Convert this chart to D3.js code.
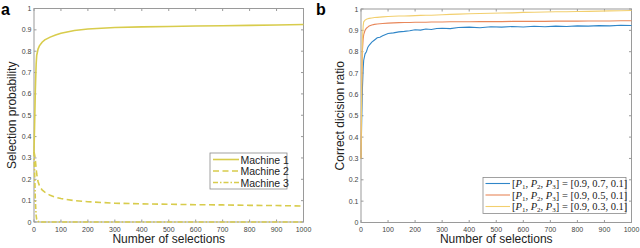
<!DOCTYPE html>
<html>
<head>
<meta charset="utf-8">
<script src="https://cdn.jsdelivr.net/npm/d3@7"></script>
<style>
    body { margin: 0; background: white; }
    svg { display: block; }
    .tick_label { font-family: "Liberation Sans", Arial, sans-serif; font-size: 7px; fill: #444; }
    .axis_label { font-family: "Liberation Sans", Arial, sans-serif; font-size: 12px; fill: #222; }
    .panel_letter { font-family: "Liberation Sans", Arial, sans-serif; font-size: 16px; font-weight: bold; fill: #000; }
</style>
</head>
<body>
<div id="chart"></div>
<script>

// ---- panel a data ----
const a_x = [0, 3, 5, 8, 10, 15, 20, 30, 40, 60, 80, 100, 150, 200, 300, 400, 500, 600, 700, 800, 900, 1000];
const machine_1 = [0.33, 0.5, 0.62, 0.74, 0.78, 0.81, 0.825, 0.842, 0.853, 0.866, 0.876, 0.884, 0.897, 0.904, 0.911, 0.914, 0.916, 0.918, 0.919, 0.921, 0.923, 0.925];
const machine_2 = [0.33, 0.31, 0.29, 0.25, 0.225, 0.19, 0.17, 0.15, 0.14, 0.125, 0.116, 0.11, 0.1, 0.095, 0.088, 0.085, 0.083, 0.081, 0.08, 0.078, 0.077, 0.075];
const machine_3 = [0.33, 0.2, 0.1, 0.03, 0.012, 0.003, 0.001, 0, 0, 0, 0, 0, 0, 0, 0, 0, 0, 0, 0, 0, 0, 0];
const a_names = ["Machine 1", "Machine 2", "Machine 3"];

// ---- panel b data ----
const b_x = [0, 3, 5, 8, 10, 15, 20, 25, 30, 40, 50, 60, 70, 80, 100, 120, 140, 160, 180, 200, 220, 240, 260, 280, 300, 330, 360, 400, 440, 480, 520, 560, 600, 640, 680, 720, 760, 800, 840, 880, 920, 960, 1000];
const blue_ratio = [0.3, 0.5, 0.62, 0.72, 0.76, 0.79, 0.8, 0.82, 0.83, 0.845, 0.855, 0.865, 0.868, 0.875, 0.885, 0.888, 0.893, 0.895, 0.898, 0.903, 0.901, 0.906, 0.904, 0.909, 0.91, 0.908, 0.913, 0.915, 0.912, 0.917, 0.915, 0.918, 0.916, 0.919, 0.917, 0.92, 0.918, 0.921, 0.92, 0.922, 0.921, 0.924, 0.923];
const orange_ratio = [0.3, 0.65, 0.8, 0.86, 0.88, 0.9, 0.91, 0.915, 0.92, 0.925, 0.928, 0.93, 0.931, 0.932, 0.934, 0.935, 0.936, 0.937, 0.937, 0.938, 0.938, 0.938, 0.939, 0.939, 0.939, 0.94, 0.94, 0.94, 0.941, 0.941, 0.941, 0.942, 0.942, 0.942, 0.942, 0.943, 0.943, 0.943, 0.944, 0.944, 0.944, 0.945, 0.945];
const yellow_ratio = [0.3, 0.7, 0.85, 0.92, 0.94, 0.948, 0.952, 0.954, 0.956, 0.958, 0.96, 0.961, 0.962, 0.963, 0.965, 0.966, 0.967, 0.967, 0.968, 0.969, 0.97, 0.971, 0.971, 0.972, 0.973, 0.975, 0.976, 0.978, 0.979, 0.98, 0.981, 0.982, 0.984, 0.985, 0.986, 0.987, 0.987, 0.988, 0.989, 0.99, 0.991, 0.992, 0.993];
const b_p2 = ["0.7", "0.5", "0.3"];

const y_ticks = [0, 0.1, 0.2, 0.3, 0.4, 0.5, 0.6, 0.7, 0.8, 0.9, 1];
const x_ticks = [0, 100, 200, 300, 400, 500, 600, 700, 800, 900, 1000];

let svg = d3.select("#chart").append("svg")
    .attr("width", 640)
    .attr("height", 248);


function draw_axes(g, xScale, yScale) {
    let x0 = xScale.range()[0], x1 = xScale.range()[1];
    let y0 = yScale.range()[0], y1 = yScale.range()[1];
    let tick_len = 2.5;

    // box
    g.append("rect")
     .attr("x", x0).attr("y", y1)
     .attr("width", x1 - x0).attr("height", y0 - y1)
     .attr("fill", "none")
     .attr("stroke", "#9a9a9a")
     .attr("stroke-width", 1);

    for (let t of x_ticks) {
        let x = xScale(t);
        g.append("line").attr("x1", x).attr("x2", x).attr("y1", y0).attr("y2", y0 - tick_len)
         .attr("stroke", "#9a9a9a");
        g.append("line").attr("x1", x).attr("x2", x).attr("y1", y1).attr("y2", y1 + tick_len)
         .attr("stroke", "#9a9a9a");
        g.append("text").attr("class", "tick_label")
         .attr("x", x).attr("y", y0 + 9.5)
         .attr("text-anchor", "middle")
         .text(t);
    }
    for (let t of y_ticks) {
        let y = yScale(t);
        g.append("line").attr("x1", x0).attr("x2", x0 + tick_len).attr("y1", y).attr("y2", y)
         .attr("stroke", "#9a9a9a");
        g.append("line").attr("x1", x1).attr("x2", x1 - tick_len).attr("y1", y).attr("y2", y)
         .attr("stroke", "#9a9a9a");
        g.append("text").attr("class", "tick_label")
         .attr("x", x0 - 2.5).attr("y", y)
         .attr("text-anchor", "end")
         .attr("dominant-baseline", "central")
         .text(d3.format("~g")(t));
    }
}


// ================= panel a =================
let a_xScale = d3.scaleLinear().domain([0, 1000]).range([34, 303.5]);
let a_yScale = d3.scaleLinear().domain([0, 1]).range([222, 8.5]);
let ga = svg.append("g");

draw_axes(ga, a_xScale, a_yScale);

let a_color = "#d8cc4c";
let a_dash = ["none", "6,3.5", "5,2,1.5,2"];
let a_series = [machine_1, machine_2, machine_3];

let a_line = d3.line()
    .x(function(d) { return a_xScale(d[0]); })
    .y(function(d) { return a_yScale(d[1]); });

for (let i = a_series.length - 1; i >= 0; i--) {
    let pts = a_x.map(function(x, j) { return [x, a_series[i][j]]; });
    ga.append("path")
      .attr("d", a_line(pts))
      .attr("fill", "none")
      .attr("stroke", a_color)
      .attr("stroke-width", 1.6)
      .attr("stroke-dasharray", a_dash[i]);
}

// legend a
let la = ga.append("g").attr("transform", "translate(210,153)");
la.append("rect").attr("width", 77).attr("height", 36)
  .attr("fill", "white").attr("stroke", "#8a8a8a").attr("stroke-width", 0.8);
for (let i = 0; i < a_names.length; i++) {
    let y = 6.5 + i * 11.5;
    la.append("line").attr("x1", 3).attr("x2", 29).attr("y1", y).attr("y2", y)
      .attr("stroke", a_color).attr("stroke-width", 1.6)
      .attr("stroke-dasharray", a_dash[i]);
    la.append("text")
      .attr("x", 30.5).attr("y", y)
      .attr("dominant-baseline", "central")
      .attr("font-family", "Liberation Sans, Arial, sans-serif")
      .attr("font-size", "10.5px")
      .attr("fill", "#222")
      .text(a_names[i]);
}

ga.append("text").attr("class", "axis_label")
  .attr("x", a_xScale(500)).attr("y", 243)
  .attr("text-anchor", "middle")
  .text("Number of selections");
ga.append("text").attr("class", "axis_label")
  .attr("transform", "translate(16," + a_yScale(0.5) + ") rotate(-90)")
  .attr("text-anchor", "middle")
  .text("Selection probability");
ga.append("text").attr("class", "panel_letter")
  .attr("x", 1).attr("y", 15)
  .text("a");


// ================= panel b =================
let b_xScale = d3.scaleLinear().domain([0, 1000]).range([361, 631.5]);
let b_yScale = d3.scaleLinear().domain([0, 1]).range([222.5, 9]);
let gb = svg.append("g");

draw_axes(gb, b_xScale, b_yScale);

let b_colors = ["#2f86c8", "#e8875a", "#f2cf6e"];
let b_series = [blue_ratio, orange_ratio, yellow_ratio];

let b_line = d3.line()
    .x(function(d) { return b_xScale(d[0]); })
    .y(function(d) { return b_yScale(d[1]); });

for (let i = 0; i < b_series.length; i++) {
    let pts = b_x.map(function(x, j) { return [x, b_series[i][j]]; });
    gb.append("path")
      .attr("d", b_line(pts))
      .attr("fill", "none")
      .attr("stroke", b_colors[i])
      .attr("stroke-width", 1.1);
}

// legend b
let lb = gb.append("g").attr("transform", "translate(483,177.5)");
lb.append("rect").attr("width", 143).attr("height", 36)
  .attr("fill", "white").attr("stroke", "#8a8a8a").attr("stroke-width", 0.8);
for (let i = 0; i < b_p2.length; i++) {
    let y = 6 + i * 11.5;
    lb.append("line").attr("x1", 2.5).attr("x2", 27).attr("y1", y).attr("y2", y)
      .attr("stroke", b_colors[i]).attr("stroke-width", 1.1);
    let t = lb.append("text")
      .attr("x", 29).attr("y", y + 3.5)
      .attr("font-family", "Liberation Serif, DejaVu Serif, serif")
      .attr("font-size", "10.5px")
      .attr("fill", "#222");
    t.append("tspan").text("[");
    for (let k = 1; k <= 3; k++) {
        t.append("tspan").attr("font-style", "italic").text("P");
        t.append("tspan").attr("font-size", "7px").attr("dy", 2).text(k);
        t.append("tspan").attr("dy", -2).text(k < 3 ? ", " : "]");
    }
    t.append("tspan").text(" = [0.9, " + b_p2[i] + ", 0.1]");
}

gb.append("text").attr("class", "axis_label")
  .attr("x", b_xScale(500)).attr("y", 243)
  .attr("text-anchor", "middle")
  .text("Number of selections");
gb.append("text").attr("class", "axis_label")
  .attr("transform", "translate(344," + b_yScale(0.5) + ") rotate(-90)")
  .attr("text-anchor", "middle")
  .text("Correct dicision ratio");
gb.append("text").attr("class", "panel_letter")
  .attr("x", 316).attr("y", 15)
  .text("b");

</script>
</body>
</html>
